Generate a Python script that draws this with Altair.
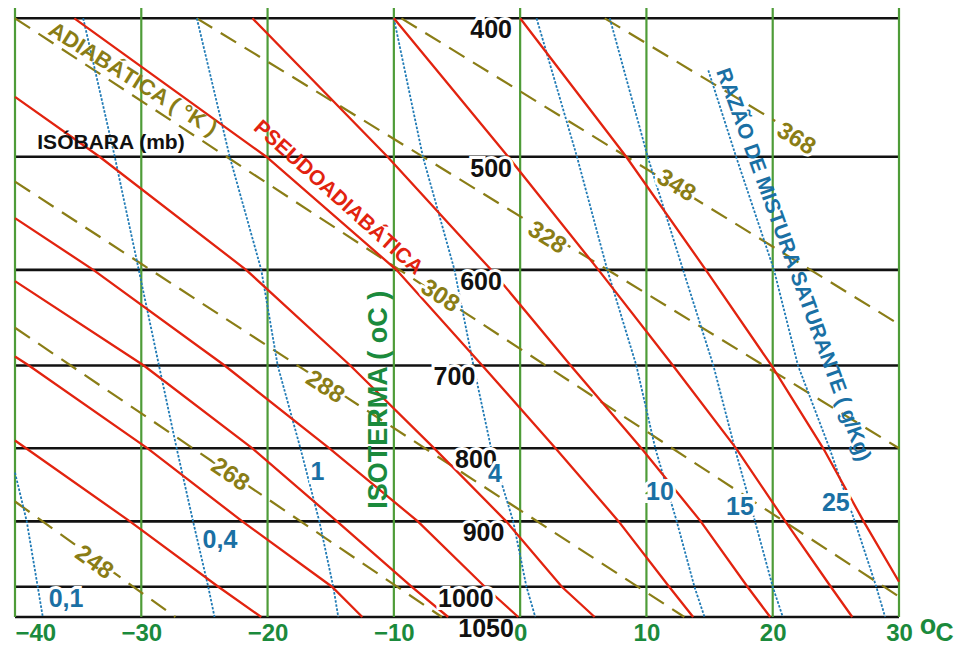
import altair as alt
import pandas as pd

# ---------------- data ----------------
ISOTHERMS = [-40, -30, -20, -10, 0, 10, 20, 30]          # deg C
ISOBARS = [400, 500, 600, 700, 800, 900, 1000, 1050]     # mb
STD_P = [400, 500, 600, 700, 800, 900, 1000, 1050]

# pseudo-adiabats (red), temperature at each pressure
PSA_A_T = [-35.3, -20.1, -9.8, -3.0, 2.8, 7.8, 11.8, 13.7]
PSA_A_P = STD_P
PSA_B_T = [-21.2, -10.5, -2.3, 4.0, 9.6, 14.3, 18.0, 19.8]
PSA_B_P = STD_P
PSA_C_T = [-10.0, -0.95, 6.2, 12.1, 17.1, 21.0, 24.6, 26.3]
PSA_C_P = STD_P
PSA_D_T = [0.0, 8.4, 14.7, 19.9, 24.0, 27.2, 30.0]
PSA_D_P = [400, 500, 600, 700, 800, 900, 992]
PSA_L1_T = [-40.0, -33.3, -21.7, -13.45, -6.8, -1.1, 3.3, 5.9]
PSA_L1_P = [454, 500, 600, 700, 800, 900, 1000, 1050]
PSA_L2_T = [-40.0, -33.8, -23.4, -15.1, -8.1, -2.8, -0.15]
PSA_L2_P = [552, 600, 700, 800, 900, 1000, 1050]
PSA_L3_T = [-40.0, -29.8, -21.2, -14.5, -8.6, -5.7]
PSA_L3_P = [611, 700, 800, 900, 1000, 1050]
PSA_L4_T = [-40.0, -38.9, -29.5, -22.0, -14.9, -12.5]
PSA_L4_P = [690, 700, 800, 900, 1000, 1050]
PSA_L5_T = [-40.0, -30.9, -23.9, -20.5]
PSA_L5_P = [790, 900, 1000, 1050]

# dry adiabats (olive dashed), end points
TH_248_T, TH_248_P = [-40.0, -27.3], [871.6, 1050]
TH_268_T, TH_268_P = [-40.0, -6.2], [658.7, 1050]
TH_288_T, TH_288_P = [-40.0, 13.0], [520.5, 1050]
TH_308_T, TH_308_P = [-40.0, 30.0], [400, 1016]
TH_328_T, TH_328_P = [-25.6, 30.0], [400, 800]
TH_348_T, TH_348_P = [-9.4, 30.0], [400, 655]
TH_368_T, TH_368_P = [6.7, 20.2], [400, 472]

# saturation mixing ratio (blue dotted)
W01_T, W01_P = [-40.0, -39.07, -38.2, -37.8], [832, 900, 1000, 1050]
W04_T = [-34.6, -32.1, -30.2, -28.6, -27.2, -25.9, -24.7, -24.2]
W1_T = [-25.6, -23.0, -20.5, -19.2, -17.4, -15.9, -14.8, -14.4]
W4_T = [-10.0, -7.7, -5.2, -3.7, -2.3, -0.55, 0.5, 1.2]
W10_T = [1.3, 4.5, 6.9, 9.2, 10.7, 12.4, 13.8, 14.6]
W15_T = [7.1, 10.1, 12.9, 15.3, 17.0, 18.6, 20.0, 20.8]
W25_T = [14.9, 17.1, 20.1, 22.0, 24.5, 26.5, 28.2, 28.9]
W25_P = [435, 500, 600, 700, 800, 900, 1000, 1050]

# labels
PRESS_LABELS = ["400", "500", "600", "700", "800", "900", "1000", "1050"]
PRESS_LABEL_T = [-2.3, -2.3, -3.1, -5.2, -3.5, -2.9, -4.3, -2.7]

THETA_LABELS = ["248", "268", "288", "308", "328", "348", "368"]
THETA_LABEL_T = [-33.75, -22.98, -15.46, -6.35, 2.12, 12.34, 21.84]
THETA_LABEL_P = [962, 835, 725, 626, 570, 524, 486]

W_LABELS = ["0,1", "0,4", "1", "4", "10", "15", "25"]
W_LABEL_T = [-35.96, -23.77, -16.05, -2.0, 11.07, 17.40, 25.0]
W_LABEL_P = [1020, 927, 831, 834, 858, 879, 874]

# ---------------- styles ----------------
FONT = "Liberation Sans"
RED = "#e2230f"
OLIVE = "#8a7d16"
BLUE_LINE = "#1f7ab5"
BLUE_TXT = "#1a70a4"
GRID_GREEN = "#4e9c38"
LBL_GREEN = "#1b8a3c"
BLACK = "#111111"
THETA_ANGLES = [36, 34, 33, 33, 32, 32, 32]

x_scale = alt.Scale(domain=[-40, 30], nice=False, zero=False)
y_scale = alt.Scale(type="log", domain=[393.4, 1050], reverse=True, nice=False)

x_axis = alt.Axis(
    values=ISOTHERMS, grid=False, domain=False, ticks=False, tickSize=0,
    labelFont=FONT, labelFontSize=24, labelFontWeight="bold", labelColor=LBL_GREEN,
    labelPadding=4, title=None, labelFlush=False, labelOverlap=False,
    labelAlign={"condition": {"test": "datum.value == -40", "value": "left"}, "value": "center"},
)


def X():
    return alt.X("T:Q", scale=x_scale, axis=x_axis)


def Y():
    return alt.Y("p:Q", scale=y_scale, axis=None)


def build(lines):
    rows = []
    for name, ts, ps in lines:
        for i, (t, p) in enumerate(zip(ts, ps)):
            rows.append({"line": name, "ord": i, "T": t, "p": p})
    return pd.DataFrame(rows)


red_df = build([
    ("A", PSA_A_T, PSA_A_P), ("B", PSA_B_T, PSA_B_P), ("C", PSA_C_T, PSA_C_P),
    ("D", PSA_D_T, PSA_D_P), ("L1", PSA_L1_T, PSA_L1_P), ("L2", PSA_L2_T, PSA_L2_P),
    ("L3", PSA_L3_T, PSA_L3_P), ("L4", PSA_L4_T, PSA_L4_P), ("L5", PSA_L5_T, PSA_L5_P),
])
olive_df = build([
    ("248", TH_248_T, TH_248_P), ("268", TH_268_T, TH_268_P), ("288", TH_288_T, TH_288_P),
    ("308", TH_308_T, TH_308_P), ("328", TH_328_T, TH_328_P), ("348", TH_348_T, TH_348_P),
    ("368", TH_368_T, TH_368_P),
])
blue_df = build([
    ("0.1", W01_T, W01_P), ("0.4", W04_T, STD_P), ("1", W1_T, STD_P), ("4", W4_T, STD_P),
    ("10", W10_T, STD_P), ("15", W15_T, STD_P), ("25", W25_T, W25_P),
])

isobar_df = pd.DataFrame({"p": ISOBARS})
isotherm_df = pd.DataFrame({"T": ISOTHERMS})

layers = []
layers.append(alt.Chart(isobar_df).mark_rule(color=BLACK, strokeWidth=2.6).encode(y=Y()))
layers.append(alt.Chart(isotherm_df).mark_rule(color=GRID_GREEN, strokeWidth=2.2).encode(x=X()))

layers.append(alt.Chart(olive_df).mark_line(color=OLIVE, strokeWidth=2.2, strokeDash=[18, 10]).encode(
    x=X(), y=Y(), detail="line:N", order="ord:Q"))
layers.append(alt.Chart(blue_df).mark_line(color=BLUE_LINE, strokeWidth=1.8, strokeDash=[2.5, 1.6]).encode(
    x=X(), y=Y(), detail="line:N", order="ord:Q"))
layers.append(alt.Chart(red_df).mark_line(color=RED, strokeWidth=2.3).encode(
    x=X(), y=Y(), detail="line:N", order="ord:Q"))

# pressure labels
press_df = pd.DataFrame({"T": PRESS_LABEL_T, "p": ISOBARS, "txt": PRESS_LABELS})
press_halo_df = press_df[press_df["p"] < 1050]
layers.append(alt.Chart(press_halo_df).mark_text(
    font=FONT, fontSize=25, fontWeight="bold", color="white", stroke="white", strokeWidth=6,
    align="center", baseline="top", dy=0).encode(x=X(), y=Y(), text="txt:N"))
layers.append(alt.Chart(press_df).mark_text(
    font=FONT, fontSize=25, fontWeight="bold", color=BLACK,
    align="center", baseline="top", dy=0).encode(x=X(), y=Y(), text="txt:N"))

# dry adiabat labels
for lbl, t, p, ang in zip(THETA_LABELS, THETA_LABEL_T, THETA_LABEL_P, THETA_ANGLES):
    d = pd.DataFrame({"T": [t], "p": [p], "txt": [lbl]})
    layers.append(alt.Chart(d).mark_text(
        font=FONT, fontSize=24, fontWeight="bold", color="white", stroke="white", strokeWidth=6,
        align="center", baseline="middle", angle=ang).encode(x=X(), y=Y(), text="txt:N"))
    layers.append(alt.Chart(d).mark_text(
        font=FONT, fontSize=24, fontWeight="bold", color=OLIVE,
        align="center", baseline="middle", angle=ang).encode(x=X(), y=Y(), text="txt:N"))

# mixing ratio labels
w_df = pd.DataFrame({"T": W_LABEL_T, "p": W_LABEL_P, "txt": W_LABELS})
layers.append(alt.Chart(w_df).mark_text(
    font=FONT, fontSize=25, fontWeight="bold", color="white", stroke="white", strokeWidth=6,
    align="center", baseline="middle").encode(x=X(), y=Y(), text="txt:N"))
layers.append(alt.Chart(w_df).mark_text(
    font=FONT, fontSize=25, fontWeight="bold", color=BLUE_TXT,
    align="center", baseline="middle").encode(x=X(), y=Y(), text="txt:N"))


def title_text(txt, t, p, color, size, angle):
    d = pd.DataFrame({"T": [t], "p": [p], "txt": [txt]})
    return alt.Chart(d).mark_text(
        font=FONT, fontSize=size, fontWeight="bold", color=color,
        align="center", baseline="middle", angle=angle).encode(x=X(), y=Y(), text="txt:N")


layers.append(title_text("ADIABÁTICA ( °K )", -30.66, 441.1, OLIVE, 22, 32))
layers.append(title_text("PSEUDOADIABÁTICA", -14.43, 534.3, RED, 21, 42))
layers.append(title_text("ISOTERMA ( oC )", -11.18, 739.9, LBL_GREEN, 27, 270))
layers.append(title_text("RAZÃO DE MISTURA SATURANTE ( g/Kg)", 21.6, 595.2, BLUE_TXT, 21, 70))
layers.append(title_text("ISÓBARA (mb)", -32.4, 489.0, BLACK, 21, 0))
layers.append(title_text("o", 32.3, 1065, LBL_GREEN, 27, 0))
layers.append(title_text("C", 33.6, 1077, LBL_GREEN, 25, 0))

chart = alt.layer(*layers).properties(
    width=884, height=609,
    padding={"left": 7, "top": 0, "right": 55, "bottom": 30},
    autosize=alt.AutoSizeParams(type="none"),
    background="white",
).configure_view(stroke=None)

chart.save("out.html", embed_options={"renderer": "svg", "actions": False})
